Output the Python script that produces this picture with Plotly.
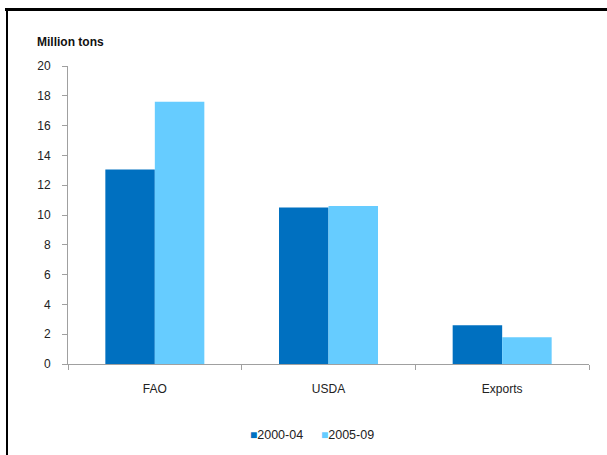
import plotly.graph_objects as go

categories = ["FAO", "USDA", "Exports"]
series_names = ["2000-04", "2005-09"]
series_colors = ["#0070C0", "#66CCFF"]
values_2000_04 = [13.05, 10.5, 2.6]
values_2005_09 = [17.6, 10.6, 1.8]
y_ticks = [0, 2, 4, 6, 8, 10, 12, 14, 16, 18, 20]

W, H = 607, 455
ML, MR, MT, MB = 68, 18, 66, 91
PW, PH = W - ML - MR, H - MT - MB

def px_x(px):
    return (px - ML) / PW

def px_y(py):
    return (H - MB - py) / PH

fig = go.Figure()
for name, vals, col in zip(series_names, [values_2000_04, values_2005_09], series_colors):
    fig.add_trace(go.Bar(x=categories, y=vals, name=name,
                         marker=dict(color=col, line=dict(width=0))))

axis_col = "#a0a0a0"
FAM = "Liberation Sans, Arial, sans-serif"
font = dict(family=FAM, size=12, color="#222222")

legend_anns = []
for i, (name, col) in enumerate(zip(series_names, series_colors)):
    legend_anns.append(dict(
        text=f"<span style='color:{col};font-size:12px'>■</span>{name}",
        x=px_x(248 + 71 * i), y=px_y(434.5), xref="paper", yref="paper",
        xanchor="left", yanchor="middle", showarrow=False,
        font=dict(family=FAM, size=12.5, color="#222222")))

fig.update_layout(
    width=W, height=H,
    margin=dict(l=ML, r=MR, t=MT, b=MB, pad=0, autoexpand=False),
    paper_bgcolor="white", plot_bgcolor="white",
    font=font,
    barmode="group", bargap=0.43, bargroupgap=0,
    showlegend=False,
    xaxis=dict(showline=True, linecolor=axis_col, linewidth=1,
               ticks="outside", tickson="boundaries", ticklen=5,
               tickcolor=axis_col, showgrid=False, zeroline=False,
               ticklabelstandoff=14, fixedrange=True, automargin=False),
    yaxis=dict(range=[0, 20], tickvals=y_ticks, showline=True,
               linecolor=axis_col, linewidth=1, ticks="outside", ticklen=5,
               tickcolor=axis_col, showgrid=False, zeroline=False,
               ticklabelstandoff=9, fixedrange=True, automargin=False),
    annotations=[dict(text="<b>Million tons</b>", x=px_x(35), y=px_y(42),
                      xref="paper", yref="paper", xanchor="left",
                      yanchor="middle", showarrow=False,
                      font=dict(family=FAM, size=12, color="#111111"))] + legend_anns,
    shapes=[
        dict(type="line", xref="paper", yref="paper",
             x0=px_x(5), x1=px_x(607), y0=px_y(9.5), y1=px_y(9.5),
             line=dict(color="black", width=3)),
        dict(type="line", xref="paper", yref="paper",
             x0=px_x(7), x1=px_x(7), y0=px_y(8), y1=px_y(455),
             line=dict(color="black", width=2)),
    ],
)

fig.write_html("out.html")
